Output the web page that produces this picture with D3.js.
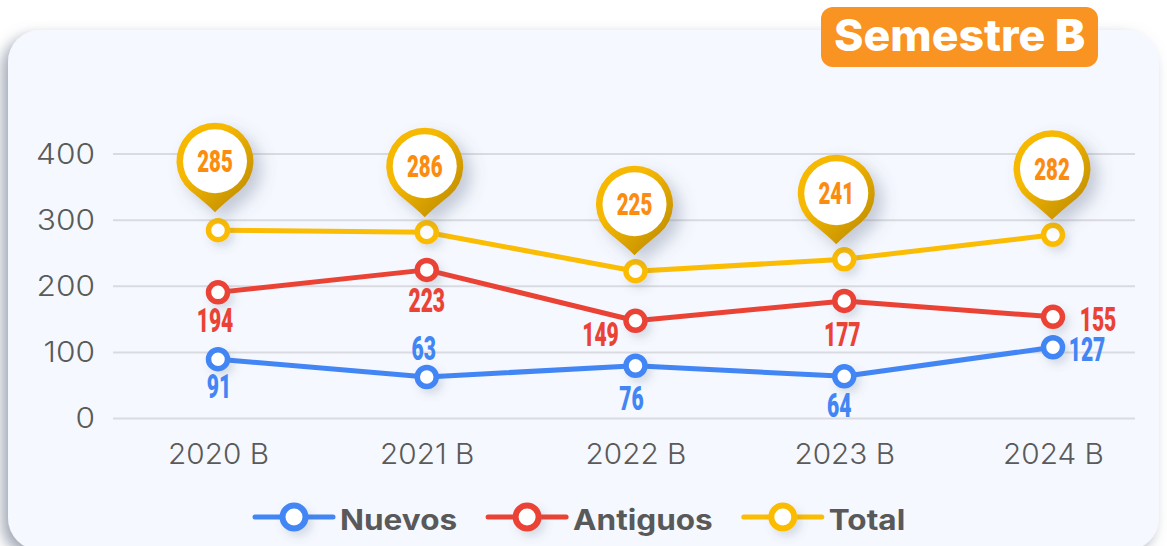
<!DOCTYPE html>
<html><head><meta charset="utf-8">
<script src="https://cdn.jsdelivr.net/npm/d3@7"></script>
<style>html,body{margin:0;padding:0;background:#fff;overflow:hidden}svg{display:block}</style>
</head><body><svg id="c" width="1167" height="546"></svg>
<script>
const categories = ["2020 B","2021 B","2022 B","2023 B","2024 B"];
const yTicks = [0,100,200,300,400];
const nuevosPlot = [89,62,79,63,107];
const antiguosPlot = [190,224,147,177,153];
const totalPlot = [284,281,222,240,277];
const nuevosLabels = [91,63,76,64,127];
const antiguosLabels = [194,223,149,177,155];
const totalLabels = [285,286,225,241,282];
const seriesNames = ["Nuevos","Antiguos","Total"];
const seriesColors = ["#4285f4","#ea4335","#fbbc04"];

const F = "Inter, 'Noto Sans', sans-serif";
const COND = "Roboto, sans-serif";
const svg = d3.select("#c");
const defs = svg.append("defs");

const fShadow = defs.append("filter").attr("id","card").attr("x","-5%").attr("y","-10%").attr("width","110%").attr("height","120%");
fShadow.append("feDropShadow").attr("dx",-6).attr("dy",6).attr("stdDeviation",7).attr("flood-color","#6f7b8f").attr("flood-opacity",.65);
const fPin = defs.append("filter").attr("id","pinS").attr("x","-40%").attr("y","-40%").attr("width","190%").attr("height","190%");
fPin.append("feDropShadow").attr("dx",8).attr("dy",8).attr("stdDeviation",8).attr("flood-color","#5a6a85").attr("flood-opacity",.33);
const fDot = defs.append("filter").attr("id","dotS").attr("x","-60%").attr("y","-60%").attr("width","240%").attr("height","240%");
fDot.append("feDropShadow").attr("dx",4).attr("dy",5).attr("stdDeviation",4).attr("flood-color","#5a6a85").attr("flood-opacity",.2);
const grad = defs.append("linearGradient").attr("id","pinG").attr("x1",0).attr("x2",1).attr("y1",0).attr("y2",1);
grad.append("stop").attr("offset","35%").attr("stop-color","#f6b800");
grad.append("stop").attr("offset","80%").attr("stop-color","#c99500");

// card
svg.append("rect").attr("x",8).attr("y",30).attr("width",1151).attr("height",520).attr("rx",32)
  .attr("fill","#f5f8fe").attr("filter","url(#card)");

// badge
svg.append("rect").attr("x",821).attr("y",7).attr("width",277).attr("height",60).attr("rx",12).attr("fill","#f99321");
const title = svg.append("text").attr("x",834).attr("y",51).attr("font-family",F).attr("font-size",44).attr("font-weight",800).attr("fill","#fff")
  .attr("textLength",251).attr("lengthAdjust","spacingAndGlyphs");
title.append("tspan").text("Semestre ");
title.append("tspan").attr("font-weight",900).text("B");

// scales
const x = d3.scalePoint().domain(categories).range([218,1053]);
const y = d3.scaleLinear().domain([0,400]).range([418,153.5]);

// axes
const gy = svg.append("g").attr("transform","translate(113,0)")
  .call(d3.axisLeft(y).tickValues(yTicks).tickSize(-1022).tickPadding(18));
gy.select(".domain").remove();
gy.selectAll("line").attr("stroke","#d9dbe0").attr("stroke-width",2);
gy.selectAll("text").attr("font-family",F).attr("font-size",28).attr("font-weight",300).attr("fill","#5a5a5a").attr("y",1);
const gx = svg.append("g").attr("transform","translate(0,418)")
  .call(d3.axisBottom(x).tickSize(0).tickPadding(26));
gx.select(".domain").remove();
gx.selectAll("text").attr("font-family",F).attr("font-size",28).attr("font-weight",300).attr("fill","#5a5a5a").attr("dy","0.71em");
// widen the tick text to the reference's wide letterforms
function widen(sel,k){ sel.each(function(){ d3.select(this).attr("textLength",this.getComputedTextLength()*k).attr("lengthAdjust","spacingAndGlyphs"); }); }
const firstX = gx.select("text").node();
widen(gx.selectAll("text"), 101/firstX.getComputedTextLength());
widen(gy.selectAll("text"), 1.13);

// lines
const line = d3.line().x((d,i)=>x(categories[i])).y(d=>y(d));
const plots = [nuevosPlot, antiguosPlot, totalPlot];
plots.forEach((vals,k)=>{
  const g = svg.append("g");
  g.append("path").datum(vals).attr("d",line).attr("fill","none").attr("stroke",seriesColors[k]).attr("stroke-width",5).attr("stroke-linejoin","round");
  g.selectAll("circle").data(vals).join("circle")
    .attr("cx",(d,i)=>x(categories[i])).attr("cy",d=>y(d)).attr("r",9.5)
    .attr("fill","#fff").attr("stroke",seriesColors[k]).attr("stroke-width",5.5).attr("filter","url(#dotS)");
});

// condensed labels
function cond(px,py,txt,color,size,sx){
  svg.append("text").attr("transform",`translate(${px},${py}) scale(${sx},1)`)
    .attr("text-anchor","middle").attr("font-family",COND).attr("font-weight",900)
    .attr("font-size",size).attr("fill",color).text(txt);
}
// label placement relative to each point
const nuevosOff = [[1,39],[-3,-17],[-4,44],[-5,41],[34,14]];
const antiguosOff = [[-3,40],[0,42],[-35,25],[-2,45],[45,14]];
nuevosLabels.forEach((v,i)=>{
  const o = nuevosOff[i];
  cond(x(categories[i])+o[0], y(nuevosPlot[i])+o[1], v, seriesColors[0], 34, .62);
});
antiguosLabels.forEach((v,i)=>{
  const o = antiguosOff[i];
  cond(x(categories[i])+o[0], y(antiguosPlot[i])+o[1], v, seriesColors[1], 34, .62);
});

// pins
const pinOff = [[-3,-69],[-2,-66],[-1,-67],[-8,-66],[-1,-66]];
totalLabels.forEach((v,i)=>{
  const cx = x(categories[i]) + pinOff[i][0], cy = y(totalPlot[i]) + pinOff[i][1];
  const g = svg.append("g").attr("transform",`translate(${cx},${cy})`);
  g.append("path").attr("d","M0,51 Q-8,43 -25,29.3 A38.5,38.5 0 1 1 25,29.3 Q8,43 0,51 Z").attr("fill","url(#pinG)").attr("filter","url(#pinS)");
  g.append("circle").attr("r",32).attr("fill","#fff");
  cond(cx, cy+11, v, "#fb8c0f", 31, .66);
});

// legend
let lx = 255;
seriesNames.forEach((name,k)=>{
  const g = svg.append("g");
  g.append("line").attr("x1",lx).attr("x2",lx+78).attr("y1",517).attr("y2",517).attr("stroke",seriesColors[k]).attr("stroke-width",5).attr("stroke-linecap","round");
  g.append("circle").attr("cx",lx+39).attr("cy",517).attr("r",11.5).attr("fill","#fff").attr("stroke",seriesColors[k]).attr("stroke-width",6).attr("filter","url(#dotS)");
  const t = g.append("text").attr("x",lx+85).attr("y",530).attr("font-family",F).attr("font-size",28).attr("font-weight",700).attr("fill","#595959").text(name);
  const w = t.node().getComputedTextLength()*1.125;
  t.attr("textLength",w).attr("lengthAdjust","spacingAndGlyphs");
  lx += 85 + w + 31;
});
</script></body></html>
